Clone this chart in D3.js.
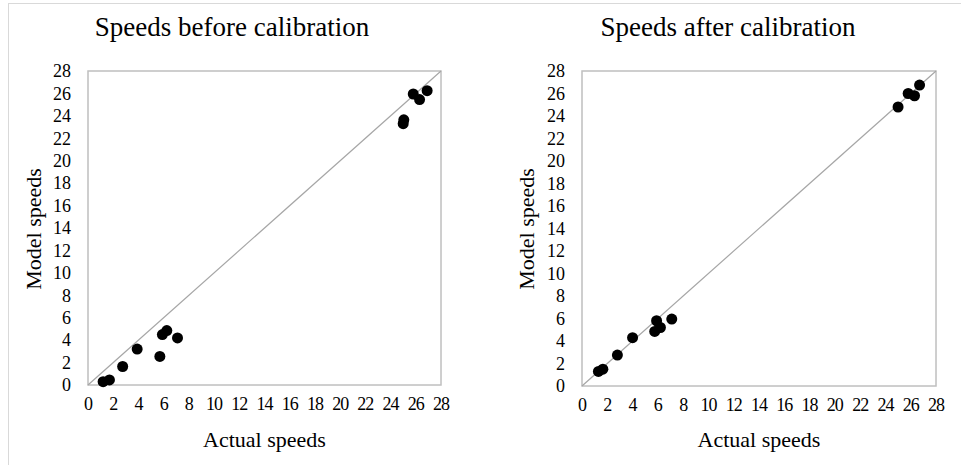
<!DOCTYPE html>
<html>
<head>
<meta charset="utf-8">
<script src="https://cdn.jsdelivr.net/npm/d3@7"></script>
<style>
  body { margin: 0; background: #fff; }
</style>
</head>
<body>
<div id="chart"></div>
<script>
var width = 961, height = 465;
var serif = "'Liberation Serif', 'Times New Roman', serif";

// speeds (actual vs model) per detector, before and after calibration
var actualBefore = [1.2, 1.7, 2.75, 3.9, 5.7, 5.9, 6.25, 7.1, 25.0, 25.05, 25.8, 26.3, 26.9];
var modelBefore  = [0.3, 0.45, 1.65, 3.2, 2.55, 4.5, 4.85, 4.2, 23.3, 23.65, 25.95, 25.45, 26.25];
var actualAfter  = [1.3, 1.65, 2.8, 4.0, 5.75, 5.9, 6.2, 7.1, 25.0, 25.8, 26.3, 26.7];
var modelAfter   = [1.3, 1.5, 2.75, 4.3, 4.85, 5.8, 5.2, 5.95, 24.8, 26.0, 25.8, 26.75];
var axisTicks = [0, 2, 4, 6, 8, 10, 12, 14, 16, 18, 20, 22, 24, 26, 28];
var titles = ["Speeds before calibration", "Speeds after calibration"];

var svg = d3.select("#chart").append("svg")
  .attr("width", width)
  .attr("height", height)
  .style("font-family", serif);

// outer frame
svg.append("rect")
  .attr("x", 8.5).attr("y", 3.5)
  .attr("width", width + 10).attr("height", height + 10)
  .attr("fill", "none")
  .attr("stroke", "#d9d9d9");

var panels = [
  {left: 88, right: 441, top: 71, bottom: 385, titleX: 232, yTitleX: 33,
   xs: actualBefore, ys: modelBefore, title: titles[0]},
  {left: 582, right: 936, top: 71, bottom: 386, titleX: 728, yTitleX: 526,
   xs: actualAfter, ys: modelAfter, title: titles[1]}
];

panels.forEach(function(p) {
  var x = d3.scaleLinear().domain([0, 28]).range([p.left, p.right]);
  var y = d3.scaleLinear().domain([0, 28]).range([p.bottom, p.top]);
  var g = svg.append("g");

  g.append("text")
    .text(p.title)
    .attr("x", p.titleX).attr("y", 36)
    .attr("text-anchor", "middle")
    .style("font-family", serif)
    .style("font-size", "27px");

  g.append("rect")
    .attr("x", p.left).attr("y", p.top)
    .attr("width", p.right - p.left).attr("height", p.bottom - p.top)
    .attr("fill", "none")
    .attr("stroke", "#bfbfbf")
    .attr("stroke-width", 1.5);

  // 1:1 reference line
  g.append("line")
    .attr("x1", x(0)).attr("y1", y(0))
    .attr("x2", x(28)).attr("y2", y(28))
    .attr("stroke", "#a6a6a6")
    .attr("stroke-width", 1.2);

  var yAxis = g.append("g")
    .attr("transform", "translate(" + (p.left - 17) + ",0)")
    .call(d3.axisLeft(y).tickValues(axisTicks).tickSize(0).tickPadding(0));
  yAxis.select(".domain").remove();
  yAxis.attr("font-family", serif);
  yAxis.selectAll("text").style("font-size", "18px").style("font-family", serif).attr("fill", "#000");

  var xAxis = g.append("g")
    .attr("transform", "translate(0," + (p.bottom + 12) + ")")
    .call(d3.axisBottom(x).tickValues(axisTicks).tickSize(0).tickPadding(0));
  xAxis.select(".domain").remove();
  xAxis.attr("font-family", serif);
  xAxis.selectAll("text").style("font-size", "18px").style("font-family", serif).attr("fill", "#000")
    .attr("textLength", function(d) { return d >= 10 ? 17 : null; });

  g.append("text")
    .text("Actual speeds")
    .attr("x", (p.left + p.right) / 2).attr("y", 447)
    .attr("text-anchor", "middle")
    .style("font-family", serif)
    .style("font-size", "22px");

  g.append("text")
    .text("Model speeds")
    .attr("transform", "translate(" + (p.yTitleX + 8) + "," + 229 + ") rotate(-90)")
    .attr("text-anchor", "middle")
    .style("font-family", serif)
    .style("font-size", "22px");

  g.selectAll("circle.pt")
    .data(p.xs.map(function(v, i) { return [v, p.ys[i]]; }))
    .enter().append("circle")
    .attr("class", "pt")
    .attr("cx", function(d) { return x(d[0]); })
    .attr("cy", function(d) { return y(d[1]); })
    .attr("r", 5.5)
    .attr("fill", "#000");
});
</script>
</body>
</html>
